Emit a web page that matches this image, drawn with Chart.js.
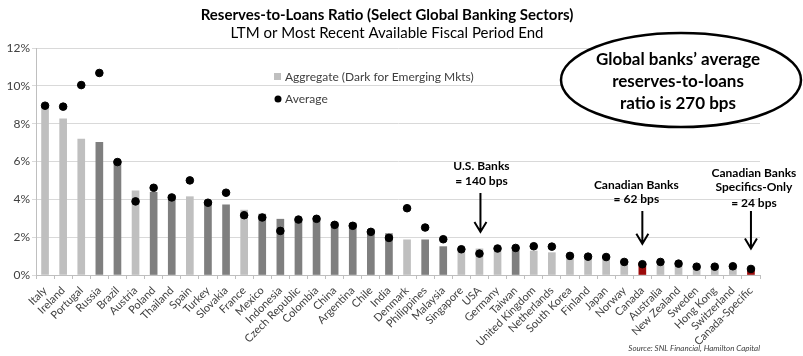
<!DOCTYPE html>
<html><head><meta charset="utf-8">
<script src="https://cdn.jsdelivr.net/npm/chart.js@4"></script>
<style>html,body{margin:0;padding:0;background:#fff}#wrap{width:803px;height:356px;position:relative}</style>
</head><body><div id="wrap"><canvas id="c" width="803" height="356"></canvas></div>
<script>
const categories = ['Italy','Ireland','Portugal','Russia','Brazil','Austria','Poland','Thailand','Spain','Turkey','Slovakia','France','Mexico','Indonesia','Czech Republic','Colombia','China','Argentina','Chile','India','Denmark','Philippines','Malaysia','Singapore','USA','Germany','Taiwan','United Kingdom','Netherlands','South Korea','Finland','Japan','Norway','Canada','Australia','New Zealand','Sweden','Hong Kong','Switzerland','Canada-Specific'];
const aggregate = [8.9,8.25,7.19,7.02,6.04,4.45,4.37,4.21,4.14,3.92,3.71,3.43,3.22,2.95,2.88,2.88,2.77,2.74,2.39,2.19,1.86,1.86,1.50,1.22,1.38,1.24,1.29,1.27,1.18,0.83,0.83,0.80,0.57,0.65,0.53,0.50,0.39,0.39,0.41,0.24];
const average = [8.95,8.9,10.04,10.68,5.97,3.89,4.61,4.1,5.0,3.82,4.35,3.16,3.04,2.33,2.93,2.97,2.65,2.6,2.28,1.96,3.53,2.51,1.89,1.36,1.13,1.40,1.43,1.52,1.50,1.01,0.97,0.95,0.69,0.57,0.69,0.60,0.44,0.44,0.46,0.32];
// market group: 'dev' developed, 'em' emerging, 'ca' Canada highlight
const marketGroup = ['dev','dev','dev','em','em','dev','em','em','dev','em','em','dev','em','em','em','em','em','em','em','em','dev','em','em','dev','dev','dev','em','dev','dev','dev','dev','dev','dev','ca','dev','dev','dev','dev','dev','ca'];
const yTicks = [0,2,4,6,8,10,12];
const titleText = 'Reserves-to-Loans Ratio (Select Global Banking Sectors)';
const subtitleText = 'LTM or Most Recent Available Fiscal Period End';
const legendLabels = ['Aggregate (Dark for Emerging Mkts)','Average'];
const calloutLines = ['Global banks\u2019 average','reserves-to-loans','ratio is 270 bps'];
const sourceText = 'Source: SNL Financial, Hamilton Capital';

const groupColors = {dev:'#bfbfbf', em:'#7f7f7f', ca:'#9b0a0a'};
const FONT = 'Lato, "Open Sans", sans-serif';

const overlay = {
  id:'overlay',
  afterDraw(chart){
    const c = chart.ctx, xs = chart.scales.x, ys = chart.scales.y;
    c.save();
    c.fillStyle = '#000'; c.textAlign='center'; c.textBaseline='middle';
    c.font = 'bold 15px ' + FONT; c.fillText(titleText, 387, 15);
    c.font = '15px ' + FONT; c.fillText(subtitleText, 387, 33);
    // legend
    c.textAlign='left'; c.font = '12px ' + FONT;
    c.fillStyle = '#bfbfbf'; c.fillRect(274, 73, 7, 7);
    c.fillStyle = '#404040'; c.fillText(legendLabels[0], 285, 77);
    c.fillStyle = '#000'; c.beginPath(); c.arc(278, 99, 3.5, 0, Math.PI*2); c.fill();
    c.fillStyle = '#404040'; c.fillText(legendLabels[1], 285, 99);
    // callout ellipse
    c.beginPath(); c.ellipse(681, 80, 120, 47, 0, 0, Math.PI*2);
    c.fillStyle='#fff'; c.fill(); c.lineWidth=2.5; c.strokeStyle='#000'; c.stroke();
    c.fillStyle='#000'; c.textAlign='center'; c.font='bold 17px ' + FONT;
    calloutLines.forEach((t,i)=>c.fillText(t, 678, 60 + i*22));
    // annotations
    c.font = 'bold 12px ' + FONT;
    function arrow(x, y1, y2){
      c.beginPath(); c.moveTo(x,y1); c.lineTo(x,y2);
      c.moveTo(x-6,y2-10); c.lineTo(x,y2); c.lineTo(x+6,y2-10);
      c.lineWidth=2; c.strokeStyle='#000'; c.stroke();
    }
    const iUS = categories.indexOf('USA'), iCA = categories.indexOf('Canada'), iCS = categories.indexOf('Canada-Specific');
    const xUS = xs.getPixelForValue(iUS), xCA = xs.getPixelForValue(iCA), xCS = xs.getPixelForValue(iCS);
    c.fillText('U.S. Banks', xUS+2, 166); c.fillText('= 140 bps', xUS+2, 181);
    arrow(xUS+1, 193, ys.getPixelForValue(aggregate[iUS]) - 17);
    c.fillText('Canadian Banks', xCA-6, 185); c.fillText('= 62 bps', xCA-6, 199);
    arrow(xCA, 211, ys.getPixelForValue(aggregate[iCA]) - 19);
    c.fillText('Canadian Banks', xCS+3, 173); c.fillText('Specifics-Only', xCS+3, 187); c.fillText('= 24 bps', xCS+3, 203);
    arrow(xCS, 211, ys.getPixelForValue(aggregate[iCS]) - 22);
    // source
    c.font = 'italic 8px ' + FONT; c.fillStyle='#404040'; c.textAlign='right';
    c.fillText(sourceText, 760, 348);
    c.restore();
  }
};

new Chart(document.getElementById('c').getContext('2d'), {
  data:{
    labels: categories,
    datasets:[
      {type:'line', label:legendLabels[1], data:average, showLine:false, pointRadius:3.8, pointHoverRadius:3.8,
       pointBackgroundColor:'#000', pointBorderColor:'#000', order:0},
      {type:'bar', label:legendLabels[0], data:aggregate, backgroundColor: marketGroup.map(g=>groupColors[g]),
       barThickness:7, order:1}
    ]
  },
  options:{
    responsive:false, animation:false, devicePixelRatio:1,
    layout:{padding:{top:48, right:43, left:0, bottom:0}},
    plugins:{legend:{display:false}, tooltip:{enabled:false}, title:{display:false}},
    scales:{
      x:{
        grid:{display:true, drawOnChartArea:false, drawTicks:true, tickLength:4, offset:true, color:'#bfbfbf'},
        border:{display:true, color:'#bfbfbf'},
        ticks:{minRotation:45, maxRotation:45, autoSkip:false, color:'#404040', font:{family:FONT, size:11}, padding:5},
        afterFit(s){ s.height = 81; }
      },
      y:{
        min:0, max:12,
        afterBuildTicks(s){ s.ticks = yTicks.map(v=>({value:v})); },
        grid:{color:'#d9d9d9', tickLength:4, drawTicks:true},
        border:{display:true, color:'#bfbfbf'},
        ticks:{color:'#404040', font:{family:FONT, size:12}, padding:2, callback:v=>v+'%'},
        afterFit(s){ s.width = 36; }
      }
    }
  },
  plugins:[overlay]
});
</script>
</body></html>
